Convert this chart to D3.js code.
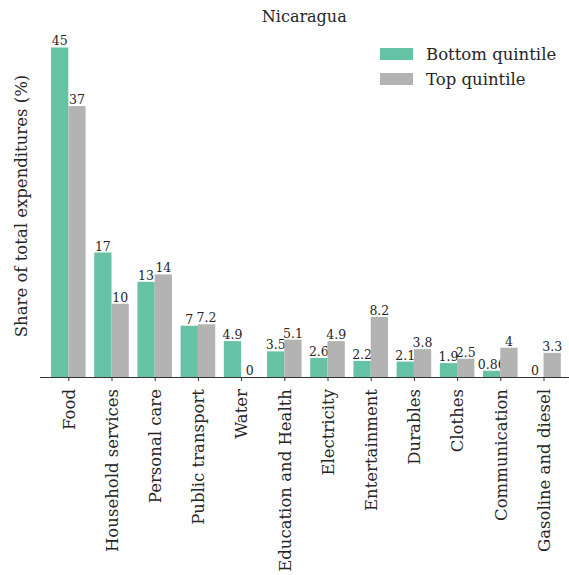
<!DOCTYPE html>
<html>
<head>
<meta charset="utf-8">
<script src="https://cdn.jsdelivr.net/npm/d3@7"></script>
<style>
  body { margin: 0; background: #fff; }
  text { font-family: "DejaVu Serif", serif; }
</style>
</head>
<body>
<svg id="chart" width="569" height="575"></svg>
<script>
const categories = ["Food", "Household services", "Personal care", "Public transport", "Water",
  "Education and Health", "Electricity", "Entertainment", "Durables", "Clothes",
  "Communication", "Gasoline and diesel"];
const bottomQuintile = [45, 17, 13, 7, 4.9, 3.5, 2.6, 2.2, 2.1, 1.9, 0.86, 0];
const topQuintile = [37, 10, 14, 7.2, 0, 5.1, 4.9, 8.2, 3.8, 2.5, 4, 3.3];
const bottomLabels = ["45", "17", "13", "7", "4.9", "3.5", "2.6", "2.2", "2.1", "1.9", "0.86", "0"];
const topLabels = ["37", "10", "14", "7.2", "0", "5.1", "4.9", "8.2", "3.8", "2.5", "4", "3.3"];
const seriesNames = ["Bottom quintile", "Top quintile"];
const colors = ["#66c2a5", "#b3b3b3"];
const title = "Nicaragua";
const yLabel = "Share of total expenditures (%)";

const svg = d3.select("#chart");
const mLeft = 39.5, mRight = 569, mTop = 31, mBottom = 377;

// index scale: position of category centers
const x = d3.scaleLinear().domain([-0.667, 11.59]).range([mLeft, mRight]);
const step = x(1) - x(0);
const barW = step * 0.4;
const y = d3.scaleLinear().domain([0, 47.25]).range([mBottom, mTop]);

const series = [
  { name: seriesNames[0], values: bottomQuintile, labels: bottomLabels, color: colors[0], off: -1 },
  { name: seriesNames[1], values: topQuintile, labels: topLabels, color: colors[1], off: 0 }
];

series.forEach(s => {
  const g = svg.append("g");
  g.selectAll("rect").data(s.values).join("rect")
    .attr("x", (d, i) => x(i) + s.off * barW)
    .attr("width", barW)
    .attr("y", d => y(d))
    .attr("height", d => y(0) - y(d))
    .attr("fill", s.color);
  g.selectAll("text").data(s.values).join("text")
    .attr("x", (d, i) => x(i) + s.off * barW + barW / 2)
    .attr("y", d => y(d) - 2)
    .attr("text-anchor", "middle")
    .attr("font-size", 12.5)
    .attr("fill", "#262626")
    .text((d, i) => s.labels[i]);
});

// x axis
const xAxis = d3.axisBottom(x)
  .tickValues(d3.range(categories.length))
  .tickFormat(i => categories[i])
  .tickSize(4)
  .tickSizeOuter(0);
const ax = svg.append("g").attr("transform", `translate(0,${mBottom})`).call(xAxis);
ax.select(".domain").attr("stroke", "#333").attr("stroke-width", 1.2);
ax.selectAll(".tick line").attr("stroke", "#333");
ax.selectAll(".tick text")
  .attr("font-family", "DejaVu Serif")
  .attr("font-size", 16.5)
  .attr("fill", "#262626")
  .attr("text-anchor", "end")
  .attr("transform", "rotate(-90)")
  .attr("x", -12)
  .attr("y", 0)
  .attr("dy", "0.35em");

// title
svg.append("text")
  .attr("x", (mLeft + mRight) / 2)
  .attr("y", 22)
  .attr("text-anchor", "middle")
  .attr("font-size", 16)
  .attr("fill", "#262626")
  .text(title);

// y label
svg.append("text")
  .attr("transform", `translate(27,${(mTop + mBottom) / 2 + 2}) rotate(-90)`)
  .attr("text-anchor", "middle")
  .attr("font-size", 16.5)
  .attr("fill", "#262626")
  .text(yLabel);

// legend
const lg = svg.append("g");
series.forEach((s, i) => {
  lg.append("rect")
    .attr("x", 380).attr("y", 48 + i * 25)
    .attr("width", 33).attr("height", 12)
    .attr("fill", s.color);
  lg.append("text")
    .attr("x", 426).attr("y", 59.5 + i * 25)
    .attr("font-size", 16.5)
    .attr("fill", "#262626")
    .text(s.name);
});
</script>
</body>
</html>
